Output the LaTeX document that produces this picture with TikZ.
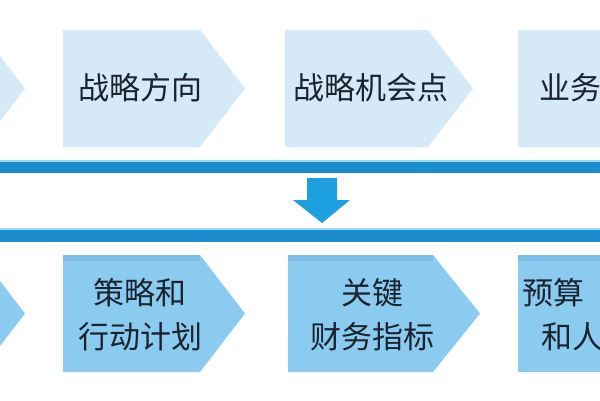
\documentclass[tikz,border=0pt]{standalone}
\usepackage{fontspec}
\newfontfamily\cjk{Noto Sans CJK SC}
\definecolor{toplight}{HTML}{D6E9F7}
\definecolor{botmid}{HTML}{8CCBF0}
\definecolor{botedge}{HTML}{7DBDE6}
\definecolor{barblue}{HTML}{1B8DCD}
\definecolor{barlight}{HTML}{9ADCF6}
\definecolor{arrowblue}{HTML}{1E9FE0}
\definecolor{txt}{HTML}{1A2430}
\tikzset{
  toprow/.style={fill=toplight},
  botrow/.style={fill=botmid},
  lbl/.style={font=\cjk\fontsize{31}{44}\selectfont, text=txt, inner sep=0pt, align=center},
}
\begin{document}
\begin{tikzpicture}[x=1pt,y=-1pt]
\useasboundingbox (0,0) rectangle (600,400);
\fill[white] (0,0) rectangle (600,400);
\clip (0,0) rectangle (600,400);
% top row
\fill[toprow] (-100,30) -- (-20,30) -- (25,88.5) -- (-20,147) -- (-100,147) -- cycle;
\fill[toprow] (63,30) -- (200,30) -- (245,88.5) -- (200,147) -- (63,147) -- cycle;
\fill[toprow] (285,30) -- (428,30) -- (473,88.5) -- (428,147) -- (285,147) -- cycle;
\fill[toprow] (518,30) -- (650,30) -- (650,147) -- (518,147) -- cycle;
\node[lbl] (t2) at (140,88) {战略方向};
\node[lbl] (t3) at (371,88) {战略机会点};
\node[lbl, anchor=west] (t4) at (539,88) {业务};
% bars
\fill[barlight] (0,159.5) rectangle (600,162);
\fill[barblue] (0,162) rectangle (600,173);
\fill[barlight] (0,227.5) rectangle (600,230);
\fill[barblue] (0,230) rectangle (600,242);
% down arrow
\fill[arrowblue] (307,178) -- (337,178) -- (337,200) -- (350,200) -- (322,223) -- (293,200) -- (307,200) -- cycle;
% bottom row
\fill[botrow] (-100,255) -- (-20,255) -- (25,313.5) -- (-20,372) -- (-100,372) -- cycle;
\fill[botrow] (63,255) -- (200,255) -- (245,313.5) -- (200,372) -- (63,372) -- cycle;
\fill[botrow] (288,255) -- (433,255) -- (480,313.5) -- (433,372) -- (288,372) -- cycle;
\fill[botrow] (518,255) -- (650,255) -- (650,372) -- (518,372) -- cycle;
\fill[botedge] (63,255) rectangle (200,261);
\fill[botedge] (288,255) rectangle (433,261);
\fill[botedge] (518,255) rectangle (650,261);
\node[lbl] (b2) at (140,315) {策略和\\行动计划};
\node[lbl] (b3) at (372,315) {关键\\财务指标};
\node[lbl, anchor=west] (b4a) at (522,293) {预算};
\node[lbl, anchor=west] (b4b) at (541,337) {和人};
\end{tikzpicture}
\end{document}
